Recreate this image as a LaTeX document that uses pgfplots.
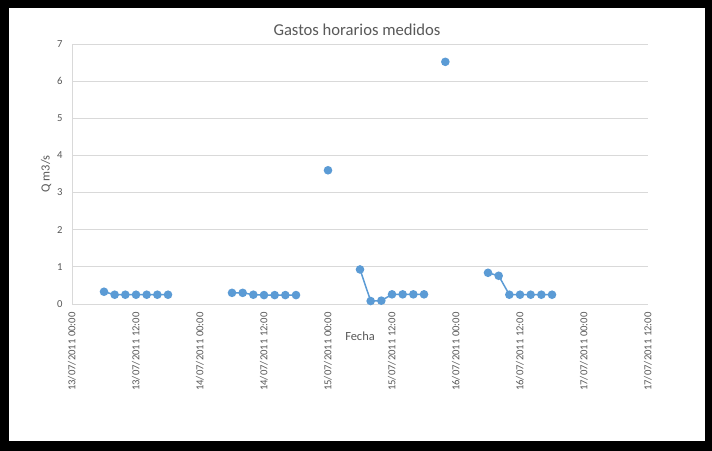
\documentclass[border=0pt]{standalone}
\usepackage{pgfplots}
\pgfplotsset{compat=1.18}
\usepackage{fontspec}
\setmainfont{Carlito}
\definecolor{serie}{HTML}{5B9BD5}
\definecolor{txt}{HTML}{595959}
\definecolor{grd}{HTML}{D9D9D9}

% Hourly discharge, x = hours since 13/07/2011 00:00 (nan = no reading)
\pgfplotstableread{
h   q
6   0.33
8   0.25
10  0.25
12  0.25
14  0.25
16  0.25
18  0.25
19  nan
30  0.30
32  0.30
34  0.25
36  0.24
38  0.24
40  0.24
42  0.24
43  nan
48  3.60
49  nan
54  0.93
56  0.08
58  0.09
60  0.26
62  0.26
64  0.26
66  0.26
67  nan
70  6.52
71  nan
78  0.84
80  0.76
82  0.25
84  0.25
86  0.25
88  0.25
90  0.25
}\gastos

\begin{document}
\begin{tikzpicture}[x=1bp,y=1bp]
\fill[black] (0,0) rectangle (712,451);
\fill[white] (9,10) rectangle (705,443);
\node[text=txt, font=\fontsize{16.7}{19}\selectfont] at (357,421) {Gastos horarios medidos};
\begin{axis}[
  at={(72bp,147bp)}, anchor=south west,
  scale only axis, width=576bp, height=260bp,
  xmin=0, xmax=108, ymin=0, ymax=7,
  axis lines=left,
  axis line style={draw=grd, line width=0.75bp, -},
  ymajorgrids,
  grid style={draw=grd, line width=0.75bp},
  major tick length=0pt,
  /pgf/number format/assume math mode=true,
  xtick={0,12,...,108},
  xticklabels={13/07/2011 00:00,13/07/2011 12:00,14/07/2011 00:00,14/07/2011 12:00,15/07/2011 00:00,15/07/2011 12:00,16/07/2011 00:00,16/07/2011 12:00,17/07/2011 00:00,17/07/2011 12:00},
  xticklabel style={rotate=90, anchor=east, font=\fontsize{10.7}{12}\selectfont, text=txt},
  xticklabel shift=5bp,
  ytick={0,1,...,7},
  yticklabel style={font=\fontsize{10.7}{12}\selectfont, text=txt},
  yticklabel shift=6bp,
  xlabel={Fecha},
  xlabel style={at={(axis description cs:0.5,0)}, anchor=center, yshift=-32bp, font=\fontsize{12.5}{14}\selectfont, text=txt},
  ylabel={Q m3/s},
  ylabel style={at={(axis description cs:-0.0451,0.5)}, anchor=center, font=\fontsize{12.5}{14}\selectfont, text=txt},
  unbounded coords=jump,
  clip=false,
]
\addplot[serie, line width=1.5bp, mark=*, mark size=3.5bp, mark options={fill=serie, draw=serie}]
  table[x=h, y=q] {\gastos};
\end{axis}
\end{tikzpicture}
\end{document}
